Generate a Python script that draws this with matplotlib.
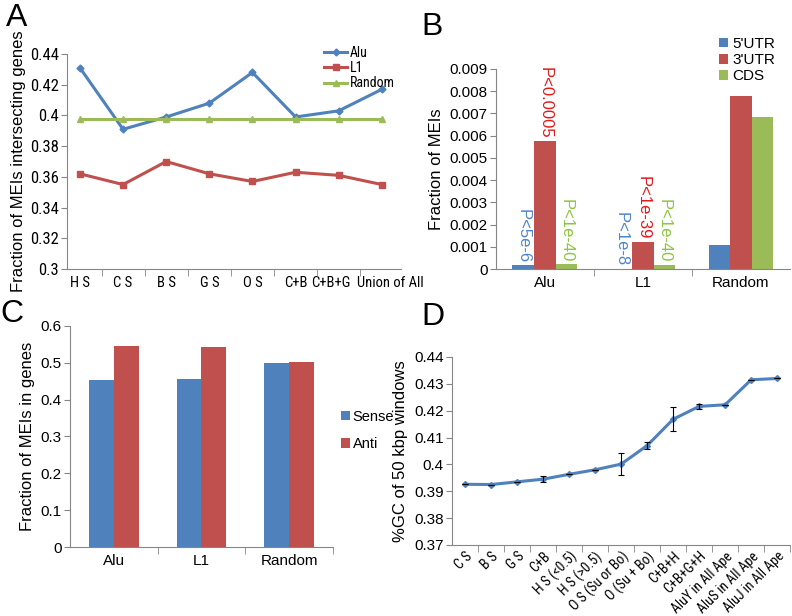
import numpy as np
import matplotlib
matplotlib.use("Agg")
import matplotlib.pyplot as plt
from matplotlib import font_manager
from matplotlib.ticker import FixedLocator
from matplotlib.transforms import ScaledTranslation

plt.rcParams['font.family'] = ['Liberation Sans', 'DejaVu Sans']

# pick a narrow face if one happens to be installed
names = set(font_manager.get_font_names())
NARROW = None
for n in ['Liberation Sans Narrow', 'Roboto Condensed', 'Open Sans Condensed', 'DejaVu Sans Condensed']:
    if n in names:
        NARROW = n
        break

BLUE = '#4F81BD'
RED = '#C0504D'
GREEN = '#9BBB59'
GRAY = '#868686'

# panel A data
a_cats = ['H S', 'C S', 'B S', 'G S', 'O S', 'C+B', 'C+B+G', 'Union of All']
a_alu = [0.431, 0.391, 0.399, 0.408, 0.428, 0.399, 0.403, 0.417]
a_l1 = [0.362, 0.355, 0.370, 0.362, 0.357, 0.363, 0.361, 0.355]
a_rand = [0.398, 0.398, 0.398, 0.398, 0.398, 0.398, 0.398, 0.398]

# panel B data
b_cats = ['Alu', 'L1', 'Random']
b_utr5 = [0.00017, 0.00002, 0.00107]
b_utr3 = [0.00576, 0.00122, 0.00777]
b_cds = [0.00021, 0.00018, 0.00683]
b_p5 = ['P<5e-6', 'P<1e-8', '']
b_p3 = ['P<0.0005', 'P<1e-39', '']
b_pc = ['P<1e-40', 'P<1e-40', '']

# panel C data
c_cats = ['Alu', 'L1', 'Random']
c_sense = [0.454, 0.456, 0.499]
c_anti = [0.545, 0.542, 0.501]

# panel D data
d_cats = ['C S', 'B S', 'G S', 'C+B', 'H S (<0.5)', 'H S (>0.5)', 'O S (Su or Bo)',
          'O (Su + Bo)', 'C+B+H', 'C+B+G+H', 'AluY in All Ape', 'AluS in All Ape',
          'AluJ in All Ape']
d_gc = [0.3926, 0.3925, 0.3935, 0.3945, 0.3963, 0.3980, 0.4001, 0.4070, 0.4168,
        0.4216, 0.4222, 0.4315, 0.4320]
d_err = [0, 0, 0, 0.001, 0, 0, 0.0041, 0.0012, 0.0045, 0.0009, 0, 0, 0]


def excel_axes(ax):
    for s in ['top', 'right']:
        ax.spines[s].set_visible(False)
    for s in ['left', 'bottom']:
        ax.spines[s].set_color(GRAY)
        ax.spines[s].set_linewidth(0.8)
    ax.tick_params(axis='y', which='major', length=4, color=GRAY, labelsize=11, pad=2)
    ax.tick_params(axis='x', which='major', length=0, labelsize=11, pad=5)
    ax.tick_params(axis='x', which='minor', length=5, color=GRAY)


def narrow(labels, size_narrow, size_plain):
    for lab in labels:
        if NARROW:
            lab.set_family([NARROW, 'DejaVu Sans'])
            lab.set_fontsize(size_narrow)
        else:
            lab.set_fontsize(size_plain)


fig = plt.figure(figsize=(7.92, 6.16), dpi=100)

# ---- A
ax = fig.add_axes([0.0846, 0.5633, 0.422, 0.349])
xa = np.arange(len(a_cats))
ax.plot(xa, a_alu, color=BLUE, lw=2.2, marker='D', ms=3.5, label='Alu')
ax.plot(xa, a_l1, color=RED, lw=2.2, marker='s', ms=4, label='L1')
ax.plot(xa, a_rand, color=GREEN, lw=2.2, marker='^', ms=4.5, label='Random')
ax.set_xlim(-0.3, 7.45)
ax.set_ylim(0.3, 0.44)
ax.set_yticks(np.arange(0.3, 0.441, 0.02))
ax.set_yticklabels(['0.3', '0.32', '0.34', '0.36', '0.38', '0.4', '0.42', '0.44'])
ax.set_xticks(xa)
ax.set_xticklabels(a_cats)
ax.xaxis.set_minor_locator(FixedLocator(np.arange(0.5, 7.5, 1)))
excel_axes(ax)
narrow(ax.get_yticklabels(), 12, 11)
narrow(ax.get_xticklabels(), 10.5, 9.5)
# nudge the two crowded last labels apart
xl = ax.get_xticklabels()
xl[6].set_transform(xl[6].get_transform() + ScaledTranslation(-6 / 72, 0, fig.dpi_scale_trans))
xl[7].set_transform(xl[7].get_transform() + ScaledTranslation(6 / 72, 0, fig.dpi_scale_trans))
ax.set_ylabel('Fraction of MEIs intersecting genes', fontsize=12, labelpad=3)
ax.legend(loc='upper right', bbox_to_anchor=(0.505, 0.935), bbox_transform=fig.transFigure,
          frameon=False, handlelength=1.6, handletextpad=0.2,
          labelspacing=0.1, borderaxespad=0,
          prop={'family': [NARROW] if NARROW else ['Liberation Sans'], 'size': 10})

# ---- B
ax = fig.add_axes([0.626, 0.5633, 0.3715, 0.3247])
xb = np.arange(len(b_cats))
w = 0.22
ax.bar(xb - w, b_utr5, w, color=BLUE, label="5'UTR")
ax.bar(xb, b_utr3, w, color=RED, label="3'UTR")
ax.bar(xb + w, b_cds, w, color=GREEN, label='CDS')
for i in range(len(b_cats)):
    ax.text(xb[i] - w, b_utr5[i] + 0.0001, b_p5[i], rotation=-90, ha='center', va='bottom',
            color='#4F86C6', fontsize=12)
    ax.text(xb[i], b_utr3[i] + 0.0001, b_p3[i], rotation=-90, ha='center', va='bottom',
            color='#E3191C', fontsize=12)
    ax.text(xb[i] + w, b_cds[i] + 0.0001, b_pc[i], rotation=-90, ha='center', va='bottom',
            color='#8CC63F', fontsize=12)
ax.set_xlim(-0.5, 2.5)
ax.set_ylim(0, 0.009)
ax.set_yticks(np.arange(0, 0.0091, 0.001))
ax.set_yticklabels(['0'] + ['%.3f' % v for v in np.arange(0.001, 0.0091, 0.001)])
ax.set_xticks(xb)
ax.set_xticklabels(b_cats)
ax.xaxis.set_minor_locator(FixedLocator([0.5, 1.5]))
excel_axes(ax)
ax.set_ylabel('Fraction of MEIs', fontsize=12, labelpad=4)
ax.legend(loc='upper left', bbox_to_anchor=(0.9, 0.95), bbox_transform=fig.transFigure,
          frameon=False, fontsize=11, handlelength=0.6, handleheight=0.6,
          handletextpad=0.3, labelspacing=0.15, borderaxespad=0)

# ---- C
ax = fig.add_axes([0.0884, 0.112, 0.332, 0.3588])
xc = np.arange(len(c_cats))
w = 0.285
ax.bar(xc - w / 2, c_sense, w, color=BLUE, label='Sense')
ax.bar(xc + w / 2, c_anti, w, color=RED, label='Anti')
ax.set_xlim(-0.5, 2.5)
ax.set_ylim(0, 0.6)
ax.set_yticks(np.arange(0, 0.61, 0.1))
ax.set_yticklabels(['0', '0.1', '0.2', '0.3', '0.4', '0.5', '0.6'])
ax.set_xticks(xc)
ax.set_xticklabels(c_cats)
ax.xaxis.set_minor_locator(FixedLocator([0.5, 1.5, 2.5]))
excel_axes(ax)
ax.set_ylabel('Fraction of MEIs in genes', fontsize=12, labelpad=4)
ax.legend(loc='upper left', bbox_to_anchor=(0.423, 0.344), bbox_transform=fig.transFigure,
          frameon=False, fontsize=10.5, handlelength=0.6, handleheight=0.6,
          handletextpad=0.2, labelspacing=0.9, borderaxespad=0)

# ---- D
ax = fig.add_axes([0.5707, 0.1153, 0.427, 0.3052])
xd = np.arange(len(d_cats))
ax.plot(xd, d_gc, color=BLUE, lw=2.2, marker='D', ms=3)
ax.errorbar(xd, d_gc, yerr=d_err, fmt='none', ecolor='black', elinewidth=0.8,
            capsize=2, capthick=0.8)
ax.set_xlim(-0.5, 12.5)
ax.set_ylim(0.37, 0.44)
ax.set_yticks(np.arange(0.37, 0.4401, 0.01))
ax.set_yticklabels(['0.37', '0.38', '0.39', '0.4', '0.41', '0.42', '0.43', '0.44'])
ax.set_xticks(xd)
ax.set_xticklabels(d_cats, rotation=45, ha='right', rotation_mode='anchor')
ax.xaxis.set_minor_locator(FixedLocator(np.arange(0.5, 12.6, 1)))
excel_axes(ax)
ax.tick_params(axis='x', which='major', pad=3)
narrow(ax.get_xticklabels(), 10, 9)
ax.set_ylabel('%GC of 50 kbp windows', fontsize=12, labelpad=4)

# panel letters
for lab, x, y in [('A', 0.008, 0.995), ('B', 0.532, 0.98), ('C', 0.0, 0.515), ('D', 0.532, 0.51)]:
    fig.text(x, y, lab, fontsize=23, va='top', ha='left')

fig.savefig('out.png', dpi=100)
